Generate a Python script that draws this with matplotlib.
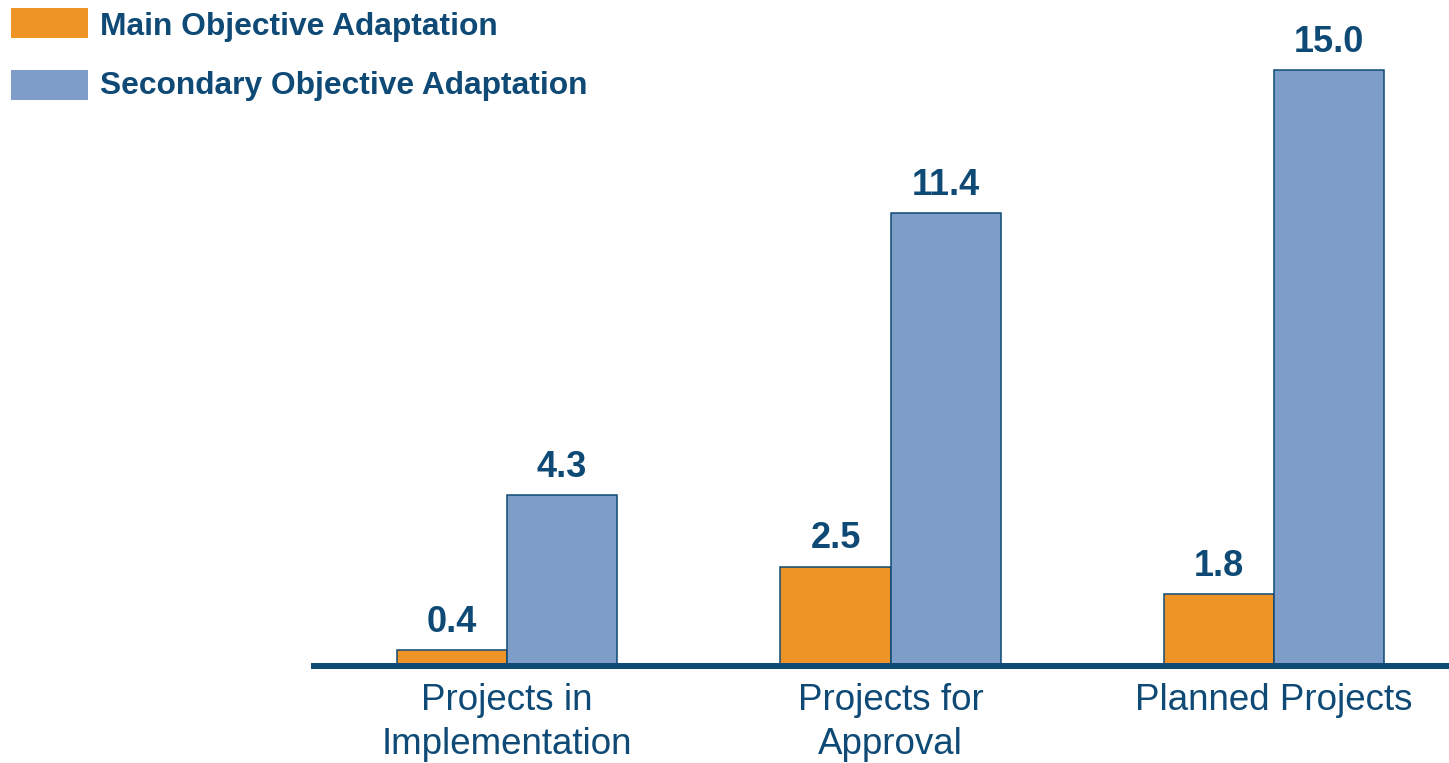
import matplotlib
matplotlib.use("Agg")
import matplotlib.pyplot as plt
from matplotlib.patches import Rectangle
import numpy as np

categories = ["Projects in\nImplementation", "Projects for\nApproval", "Planned Projects"]
series_names = ["Main Objective Adaptation", "Secondary Objective Adaptation"]
main_values = [0.4, 2.5, 1.8]
secondary_values = [4.3, 11.4, 15.0]

ORANGE = "#EE9426"
BLUE = "#7F9DC9"
NAVY = "#0E4A75"

plt.rcParams['font.family'] = ['Liberation Sans', 'DejaVu Sans']

W, H = 1449, 763
fig = plt.figure(figsize=(W / 100, H / 100), dpi=100)
ax = fig.add_axes([314 / W, (H - 666) / H, 1 - 314 / W, 666 / H])

x = np.arange(len(categories))
w = 0.287
b1 = ax.bar(x - w / 2, main_values, w, color=ORANGE, edgecolor=NAVY, linewidth=1.1, zorder=2)
b2 = ax.bar(x + w / 2, secondary_values, w, color=BLUE, edgecolor=NAVY, linewidth=1.1, zorder=2)

for bars, vals in ((b1, main_values), (b2, secondary_values)):
    for r, v in zip(bars, vals):
        ax.annotate(f"{v:.1f}", (r.get_x() + r.get_width() / 2, r.get_height()),
                    xytext=(0, 7.5), textcoords="offset points", ha="center", va="bottom",
                    fontsize=26, fontweight="bold", color=NAVY)

ax.set_xlim(-0.503, 2.456)
ax.set_ylim(0, 16.76)
ax.set_xticks(x)
ax.set_xticklabels(categories, fontsize=26.5, color=NAVY, linespacing=1.31)
ax.tick_params(axis="x", length=0, pad=12.5)
ax.set_yticks([])
for s in ("left", "right", "top"):
    ax.spines[s].set_visible(False)
ax.spines["bottom"].set_color(NAVY)
ax.spines["bottom"].set_linewidth(4.3)
ax.spines["bottom"].set_zorder(3)

# legend
colors = [ORANGE, BLUE]
tops = [8, 70]
baselines = [35, 94]
for name, c, t, bl in zip(series_names, colors, tops, baselines):
    fig.patches.append(Rectangle((11 / W, 1 - (t + 30) / H), 77 / W, 30 / H,
                                 transform=fig.transFigure, facecolor=c, edgecolor="none"))
    fig.text(100 / W, 1 - bl / H, name, fontsize=22.9, fontweight="bold",
             color=NAVY, ha="left", va="baseline")

fig.savefig("out.png", dpi=100)
